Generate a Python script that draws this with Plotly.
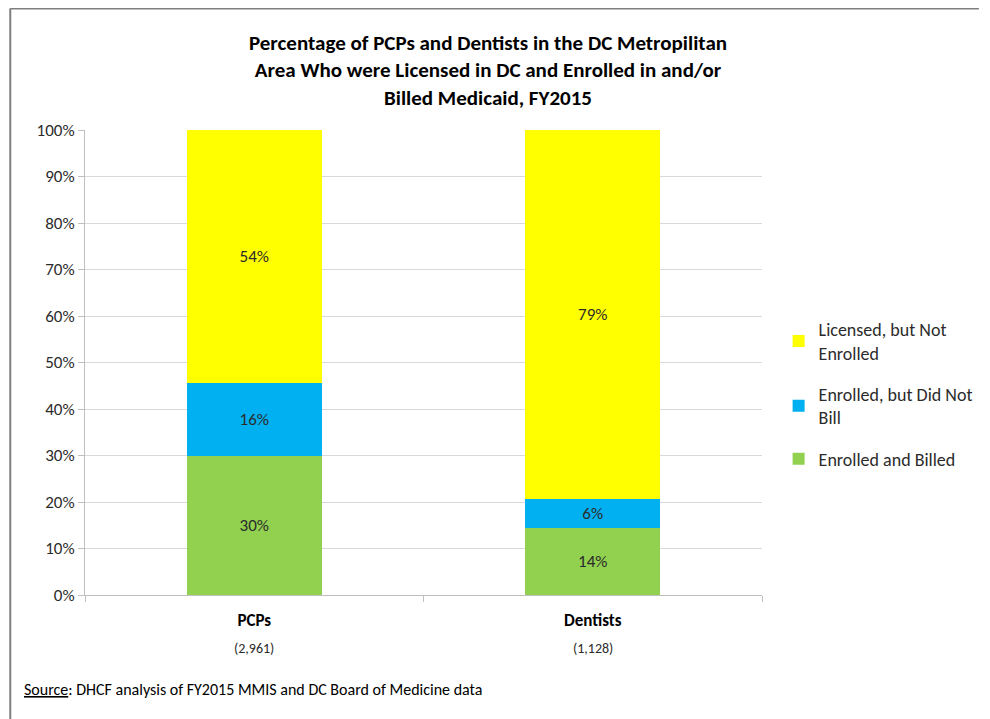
import plotly.graph_objects as go

categories = ["PCPs", "Dentists"]
counts = ["(2,961)", "(1,128)"]
enrolled_billed = [30.0, 14.4]
enrolled_not_billed = [15.6, 6.2]
licensed_not_enrolled = [54.4, 79.4]
series_names = ["Enrolled and Billed", "Enrolled, but Did Not<br>Bill", "Licensed, but Not<br>Enrolled"]
series_colors = ["#92D050", "#00B0F0", "#FFFF00"]
legend_ranks = [3, 2, 1]
y_ticks = [0, 10, 20, 30, 40, 50, 60, 70, 80, 90, 100]
y_tick_labels = [f"{v}%" for v in y_ticks]

FONT = "Calibri, Carlito, Lato, sans-serif"
TXT = "#2b2b2b"

fig = go.Figure()
for name, vals, col, rk in zip(series_names,
                               [enrolled_billed, enrolled_not_billed, licensed_not_enrolled],
                               series_colors, legend_ranks):
    fig.add_trace(go.Bar(
        x=categories, y=vals, name=name, marker=dict(color=col, line=dict(width=0)),
        texttemplate="%{y:.0f}%", textposition="inside", insidetextanchor="middle",
        textfont=dict(family=FONT, size=17, color=TXT), legendgroup=f"g{rk}", legendrank=rk,
    ))

# page has an 8px body margin; work in page pixels and convert
OFF = 8
W, H = 990 - OFF, 719 - OFF
PL, PR, PT, PB = 85, 778, 130, 595  # plot area in page pixels
L, T = PL - OFF, PT - OFF
R = W - (PR - OFF)
B = H - (PB - OFF)
pw, ph = PR - PL, PB - PT

def px(x):
    return (x - PL) / pw

def py(y):
    return (PB - y) / ph

fig.update_layout(
    width=W, height=H, barmode="stack", bargap=0.6,
    margin=dict(l=L, r=R, t=T, b=B),
    paper_bgcolor="white", plot_bgcolor="white",
    font=dict(family=FONT, color=TXT),
    title=dict(text="<b>Percentage of PCPs and Dentists in the DC Metropilitan<br>Area Who were Licensed in DC and Enrolled in and/or<br>Billed Medicaid, FY2015</b>",
               x=(488 - OFF) / W, xanchor="center", y=1 - (50 - OFF) / H, yanchor="top", yref="container",
               font=dict(family=FONT, size=21, color="#000000")),
    legend=dict(x=px(795), y=py(311), xanchor="left", yanchor="top",
                traceorder="grouped", tracegroupgap=15,
                font=dict(family=FONT, size=18, color=TXT), itemwidth=30),
    showlegend=True,
)
fig.update_yaxes(range=[0, 100], tickvals=y_ticks, ticktext=y_tick_labels,
                 showgrid=True, gridcolor="#D9D9D9", gridwidth=1,
                 showline=True, linecolor="#BFBFBF", linewidth=1,
                 ticks="outside", ticklen=6, tickcolor="#BFBFBF",
                 tickfont=dict(family=FONT, size=17, color=TXT), zeroline=False)
fig.update_xaxes(tickvals=categories, ticktext=[f"<b>{c}</b>" for c in categories],
                 showline=True, linecolor="#BFBFBF", linewidth=1,
                 ticks="outside", ticklen=6, tickcolor="#BFBFBF", tickson="boundaries",
                 ticklabelstandoff=10,
                 tickfont=dict(family=FONT, size=17, color="#000000"))

for c, n in zip(categories, counts):
    fig.add_annotation(x=c, xref="x", y=py(648), yref="paper", text=n, showarrow=False,
                       font=dict(family=FONT, size=14, color=TXT), yanchor="middle")

fig.add_annotation(x=px(21), xref="paper", y=py(689), yref="paper", xanchor="left", yanchor="middle",
                   text="<u>Source</u>: DHCF analysis of FY2015 MMIS and DC Board of Medicine data",
                   showarrow=False, font=dict(family=FONT, size=16, color="#000000"))

fig.add_shape(type="line", xref="paper", yref="paper", x0=px(8.5), x1=px(1000), y0=py(8.5), y1=py(8.5),
              line=dict(color="#7F7F7F", width=2))
fig.add_shape(type="line", xref="paper", yref="paper", x0=px(8.5), x1=px(8.5), y0=py(8.5), y1=py(730),
              line=dict(color="#7F7F7F", width=2))

fig.write_html("out.html")
